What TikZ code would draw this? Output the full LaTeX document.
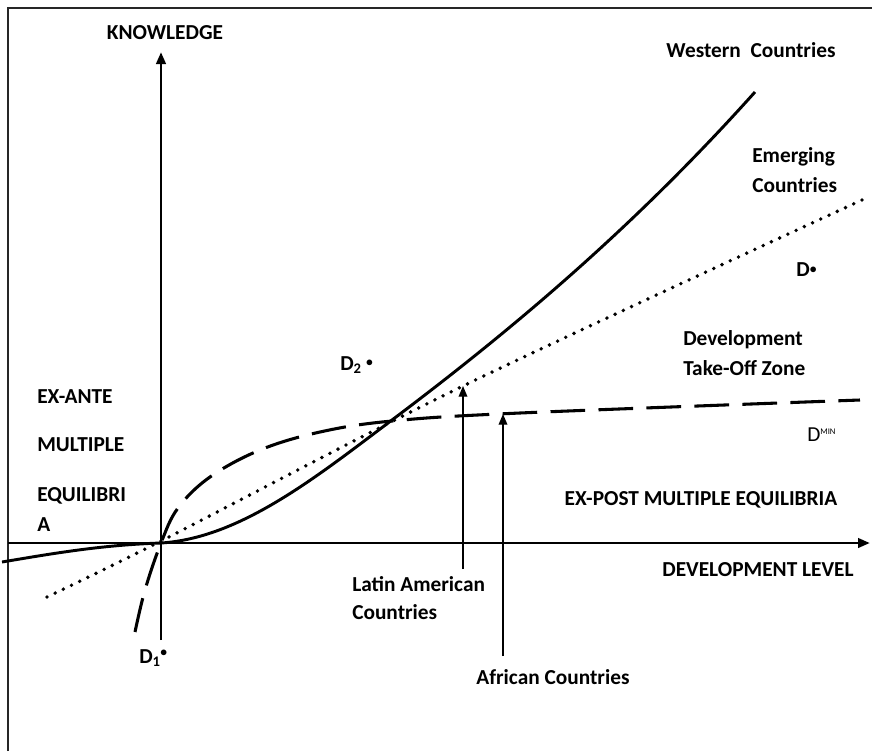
\documentclass[tikz,border=0pt]{standalone}
\usepackage{fontspec}
\setmainfont{Carlito}
\usetikzlibrary{arrows.meta}
\begin{document}
\begin{tikzpicture}[x=0.75pt,y=-0.75pt,
  lbl/.style={font=\bfseries\fontsize{16}{18}\selectfont, inner sep=0pt, text=black},
  frame/.style={line width=1.2pt, black!85},
  axisline/.style={line width=2.2pt, -{Triangle[length=9pt,width=7pt]}},
  thick curve/.style={line width=2.2pt, line join=round},
  dashcurve/.style={line width=2.3pt, dash pattern=on 26pt off 10pt},
  dotcurve/.style={line width=2.9pt, line cap=round, dash pattern=on 0pt off 6.8pt},
  pointer/.style={line width=1pt, -{Triangle[length=8pt,width=6.5pt]}}
]
\newcommand{\dotmark}{\raisebox{0.35ex}{$\scriptstyle\bullet$}}
\useasboundingbox (0,0) rectangle (872,751);
% outer frame (top and left edges)
\draw[frame] (8,751) -- (8,8) -- (872,8);

% axes
\coordinate (o) at (161,543);
\coordinate (xs) at (8,543);
\coordinate (xe) at (870,543);
\coordinate (ys) at (161,640);
\coordinate (ye) at (161,52);
\draw[axisline] (xs) -- (xe);
\draw[axisline] (ys) -- (ye);

% Western countries: solid curve
\coordinate (wa) at (2,562);
\coordinate (wb) at (392,420);
\coordinate (wc) at (755,92);
\draw[thick curve] (wa) .. controls (50,554) and (100,545) .. (o)
  .. controls (240,538) and (315,478) .. (wb)
  .. controls (513,329) and (634,227) .. (wc);

% Emerging countries: dotted line
\draw[dotcurve] plot[smooth, tension=0.5] coordinates
  {(47,597) (161,541) (463,386) (862,200)};

% D-min: dashed curve
\draw[dashcurve] plot[smooth, tension=0.6] coordinates
  {(135,632) (145,590) (161,543) (178,508) (210,477) (260,450) (320,432) (392,421) (520,413) (860,400)};

% axis titles
\node[lbl] (know) at (165,33) {KNOWLEDGE};
\node[lbl] (devlev) at (758,570) {DEVELOPMENT LEVEL};

% curve labels
\node[lbl] (west) at (751,50) {Western\ \ Countries};
\node[lbl, anchor=west] (emerg1) at (752,157) {Emerging};
\node[lbl, anchor=west] (emerg2) at (752,185) {Countries};
\node[lbl, anchor=west] (dstar) at (796,270) {D\dotmark};
\node[lbl, anchor=west] (take1) at (683,340) {Development};
\node[lbl, anchor=west] (take2) at (683,368) {Take-Off Zone};
\node[lbl, anchor=west] (dtwo) at (340,365) {D\raisebox{-0.35ex}{\fontsize{11}{11}\selectfont 2}\ \dotmark};
\node[lbl, anchor=west, font=\fontsize{16}{18}\selectfont] (dmin) at (807,435) {D\raisebox{0.75ex}{\fontsize{6.5}{6.5}\selectfont MIN}};
\node[lbl] (expost) at (701,500) {EX-POST MULTIPLE EQUILIBRIA};
\node[lbl, anchor=west] (done) at (139,658) {D\raisebox{-0.35ex}{\fontsize{11}{11}\selectfont 1}\raisebox{0.3ex}{\dotmark}};

% ex-ante block
\node[lbl, anchor=west] (ea1) at (37,397) {EX-ANTE};
\node[lbl, anchor=west] (ea2) at (37,445) {MULTIPLE};
\node[lbl, anchor=west] (ea3) at (37,496) {EQUILIBRI};
\node[lbl, anchor=west] (ea4) at (37,525) {A};

% country groups pointing at their curves
\node[lbl, anchor=west] (lat1) at (352,584) {Latin American};
\node[lbl, anchor=west] (lat2) at (352,612) {Countries};
\node[lbl] (afr) at (553,677) {African Countries};

\coordinate (latfoot) at (463,569);
\coordinate (lattip) at (463,386);
\coordinate (afrfoot) at (503,656);
\coordinate (afrtip) at (503,414);
\draw[pointer] (latfoot) -- (lattip);
\draw[pointer] (afrfoot) -- (afrtip);
\end{tikzpicture}
\end{document}
